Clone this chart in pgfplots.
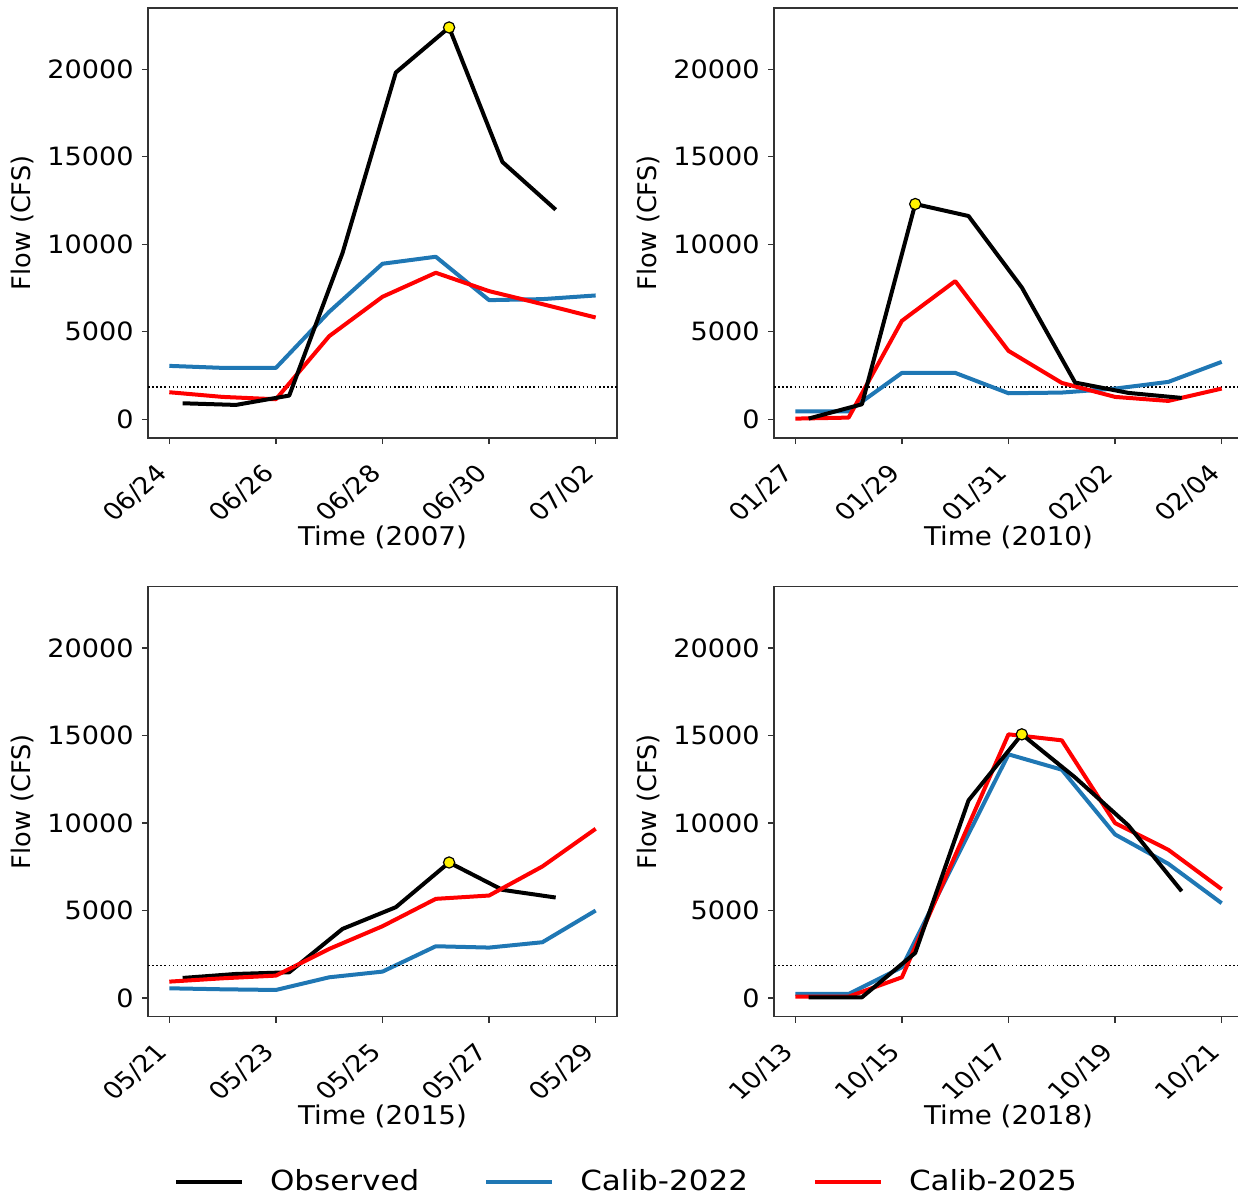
\documentclass[border=0pt]{standalone}
\usepackage{pgfplots}
\pgfplotsset{compat=1.18}
\usepackage{fontspec}
\setmainfont{DejaVu Sans}
\newfontfamily\sfs[FakeStretch=1.075]{DejaVu Sans}
\newfontfamily\sfl[FakeStretch=1.12]{DejaVu Sans}
\definecolor{tabblue}{HTML}{1F77B4}
\definecolor{pred}{HTML}{FF0000}
\newcommand{\ytickfont}{\sfs\fontsize{12.6pt}{15pt}\selectfont}
\newcommand{\xtickfont}{\fontsize{13.5pt}{15pt}\selectfont}
\newcommand{\xlabfont}{\sfs\fontsize{12.9pt}{15pt}\selectfont}
\newcommand{\ylabfont}{\fontsize{12.8pt}{15pt}\selectfont}
\newcommand{\legfont}{\sfl\fontsize{13.85pt}{17pt}\selectfont}
\pgfplotsset{
  panel/.style={
    scale only axis, width=234.5pt, height=215pt,
    xmin=-0.4, xmax=8.4, ymin=-1070, ymax=23500,
    xtick={0,2,4,6,8}, ytick={0,5000,10000,15000,20000},
    tick align=outside, major tick length=3pt,
    axis line style={black!80, line width=0.6pt},
    every tick/.style={black!80, line width=0.6pt},
    xtick pos=bottom, ytick pos=left,
    scaled y ticks=false,
    /pgf/number format/assume math mode=true,
    /pgf/number format/set thousands separator={},
    yticklabel style={font=\ytickfont, anchor=east, inner sep=0pt, xshift=-4pt},
    every x tick label/.append style={font=\xtickfont, yscale=0.87, rotate=45, anchor=north east, inner sep=0pt, xshift=-12.5pt, yshift=-2.3pt},
    ylabel={Flow (CFS)},
    every axis y label/.style={at={(axis description cs:-0.2687,0.5)}, rotate=90, anchor=center, font=\ylabfont},
    every axis x label/.style={at={(axis description cs:0.5,-0.232)}, anchor=center, font=\xlabfont},
    clip=false,
  },
  obs/.style={black, line width=2pt, line join=round},
  c22/.style={tabblue, line width=2pt, line join=round},
  c25/.style={pred, line width=2pt, line join=round},
  thr/.style={black, line width=0.75pt, dash pattern=on 0.75pt off 1.3pt, forget plot},
  pk/.style={only marks, mark=*, mark size=2.8pt, mark options={fill=yellow, draw=black, line width=0.6pt}, forget plot},
}
\begin{document}
\begin{tikzpicture}
\path[use as bounding box] (0,0) rectangle (619pt,-599.5pt);

% ---------- 2007 ----------
\begin{axis}[panel, at={(74pt,-219pt)}, anchor=south west,
  xticklabels={06/24,06/26,06/28,06/30,07/02}, xlabel={Time (2007)}]
\addplot[thr] coordinates {(-0.4,1850) (8.4,1850)};
\addplot[c22] coordinates {(0,3051)(1,2937)(2,2937)(3,6140)(4,8887)(5,9287)(6,6808)(7,6865)(8,7075)};
\addplot[c25] coordinates {(0,1545)(1,1278)(2,1144)(3,4748)(4,6999)(5,8372)(6,7323)(7,6579)(8,5816)};
\addplot[obs] coordinates {(0.25,915)(1.25,820)(2.25,1354)(3.25,9500)(4.25,19814)(5.25,22388)(6.25,14703)(7.25,11976)};
\addplot[pk] coordinates {(5.25,22388)};
\end{axis}

% ---------- 2010 ----------
\begin{axis}[panel, at={(387pt,-219pt)}, anchor=south west,
  xticklabels={01/27,01/29,01/31,02/02,02/04}, xlabel={Time (2010)}]
\addplot[thr] coordinates {(-0.4,1850) (8.4,1850)};
\addplot[c22] coordinates {(0,458)(1,458)(2,2651)(3,2651)(4,1487)(5,1526)(6,1754)(7,2136)(8,3280)};
\addplot[c25] coordinates {(0,38)(1,95)(2,5626)(3,7895)(4,3909)(5,2079)(6,1278)(7,1049)(8,1754)};
\addplot[obs] coordinates {(0.25,40)(1.25,858)(2.25,12300)(3.25,11614)(4.25,7533)(5.25,2098)(6.25,1507)(7.25,1220)};
\addplot[pk] coordinates {(2.25,12300)};
\end{axis}

% ---------- 2015 ----------
\begin{axis}[panel, at={(74pt,-508.35pt)}, anchor=south west,
  xticklabels={05/21,05/23,05/25,05/27,05/29}, xlabel={Time (2015)},
  legend columns=3,
  legend style={at={(axis description cs:1.018,-0.384)}, anchor=center, draw=none, fill=none,
    font=\legfont, nodes={inner sep=0pt},
    /tikz/every odd column/.append style={column sep=13pt},
    /tikz/every even column/.append style={column sep=32.5pt}},
  legend image code/.code={\draw[#1] (0pt,0pt) -- (33pt,0pt);}]
\addplot[obs] coordinates {(0.25,1144)(1.25,1373)(2.25,1468)(3.25,3947)(4.25,5187)(5.25,7742)(6.25,6179)(7.25,5740)};
\addplot[c22] coordinates {(0,553)(1,496)(2,458)(3,1182)(4,1507)(5,2956)(6,2880)(7,3185)(8,4996)};
\addplot[c25] coordinates {(0,934)(1,1125)(2,1278)(3,2803)(4,4100)(5,5664)(6,5854)(7,7514)(8,9668)};
\addplot[thr] coordinates {(-0.4,1850) (8.4,1850)};
\addplot[pk] coordinates {(5.25,7742)};
\legend{Observed, Calib-2022, Calib-2025}
\end{axis}

% ---------- 2018 ----------
\begin{axis}[panel, at={(387pt,-508.35pt)}, anchor=south west,
  xticklabels={10/13,10/15,10/17,10/19,10/21}, xlabel={Time (2018)}]
\addplot[thr] coordinates {(-0.4,1850) (8.4,1850)};
\addplot[c22] coordinates {(0,229)(1,229)(2,1754)(3,7857)(4,13921)(5,13044)(6,9344)(7,7666)(8,5416)};
\addplot[c25] coordinates {(0,76)(1,76)(2,1182)(3,8143)(4,15065)(5,14722)(6,9992)(7,8467)(8,6217)};
\addplot[obs] coordinates {(0.25,38)(1.25,38)(2.25,2575)(3.25,11290)(4.25,15065)(5.25,12600)(6.25,9859)(7.25,6102)};
\addplot[pk] coordinates {(4.25,15065)};
\end{axis}
\end{tikzpicture}
\end{document}
